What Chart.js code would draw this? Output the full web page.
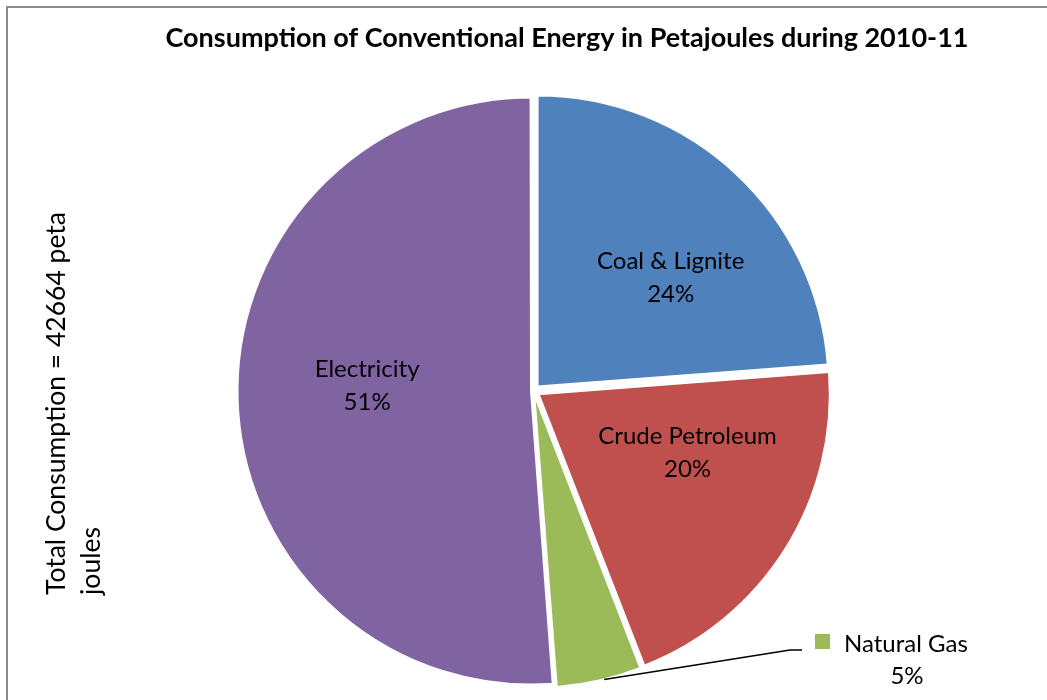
<!DOCTYPE html>
<html>
<head>
<meta charset="utf-8">
<script src="https://cdn.jsdelivr.net/npm/chart.js@4/dist/chart.umd.min.js"></script>
<style>
  html, body { margin: 0; padding: 0; background: #fff; }
  #pie { display: block; }
</style>
</head>
<body>
<canvas id="pie" width="1047" height="700"></canvas>
<script>
// values (petajoules, 2010-11)
const categories = ['Coal & Lignite', 'Crude Petroleum', 'Natural Gas', 'Electricity'];
const consumption = [10150, 8660, 2010, 21844];
const sliceColors = ['#4F81BD', '#C0504D', '#9BBB59', '#8064A2'];
const sliceOffsets = [24, 24, 14, 10];
const chartTitle = 'Consumption of Conventional Energy in Petajoules during 2010-11';
const sideNote = ['Total Consumption = 42664 peta', 'joules'];

// where each inside label sits: angle shift (deg) from slice middle, fraction of radius
const labelPlacement = [
  { shift: 8, frac: 0.59 },
  { shift: -10.5, frac: 0.55 },
  null,
  { shift: 4, frac: 0.555 },
];

const FONT = 'Lato, "Open Sans", sans-serif';
const total = consumption.reduce((a, b) => a + b, 0);
const pct = v => Math.round(v / total * 100) + '%';

function sliceCenter(arc, offset) {
  const circ = arc.endAngle - arc.startAngle;
  const fix = 1 - Math.sin(Math.min(Math.PI, circ));
  const shift = offset / 4 * (1 + fix);
  const mid = (arc.startAngle + arc.endAngle) / 2;
  return { x: arc.x + Math.cos(mid) * shift, y: arc.y + Math.sin(mid) * shift, mid };
}

const decor = {
  id: 'decor',
  beforeDraw(chart) {
    const ctx = chart.ctx;
    ctx.save();
    ctx.fillStyle = '#fff';
    ctx.fillRect(0, 0, chart.width, chart.height);

    // frame (right and bottom edges fall outside the picture)
    ctx.strokeStyle = '#8c8c8c';
    ctx.lineWidth = 2;
    ctx.beginPath();
    ctx.moveTo(7, chart.height + 5);
    ctx.lineTo(7, 7);
    ctx.lineTo(chart.width + 5, 7);
    ctx.stroke();

    ctx.fillStyle = '#000';
    ctx.font = 'bold 27px ' + FONT;
    ctx.textAlign = 'center';
    ctx.textBaseline = 'alphabetic';
    ctx.fillText(chartTitle, 567, 47);

    ctx.font = '26.5px ' + FONT;
    ctx.textAlign = 'left';
    ctx.translate(0, 595);
    ctx.rotate(-Math.PI / 2);
    ctx.fillText(sideNote[0], 0, 65);
    ctx.fillText(sideNote[1], 0, 100);
    ctx.restore();
  },
  afterDatasetsDraw(chart) {
    const ctx = chart.ctx;
    const arcs = chart.getDatasetMeta(0).data;
    ctx.save();
    ctx.fillStyle = '#000';
    ctx.font = '24px ' + FONT;
    ctx.textAlign = 'center';
    ctx.textBaseline = 'alphabetic';

    arcs.forEach((arc, i) => {
      const place = labelPlacement[i];
      if (!place) return;
      const c = sliceCenter(arc, sliceOffsets[i]);
      const a = c.mid + place.shift * Math.PI / 180;
      const r = arc.outerRadius * place.frac;
      const x = c.x + Math.cos(a) * r;
      const y = c.y + Math.sin(a) * r;
      ctx.fillText(categories[i], x, y - 9.5);
      ctx.fillText(pct(consumption[i]), x, y + 24);
    });

    // Natural Gas: outside label with leader line
    const gi = 2;
    const gas = arcs[gi];
    const gc = sliceCenter(gas, sliceOffsets[gi]);
    const ga = gc.mid - 1 * Math.PI / 180;
    const sx = gc.x + Math.cos(ga) * gas.outerRadius;
    const sy = gc.y + Math.sin(ga) * gas.outerRadius;
    ctx.strokeStyle = '#000';
    ctx.lineWidth = 1.5;
    ctx.beginPath();
    ctx.moveTo(sx, sy);
    ctx.lineTo(790, 650);
    ctx.lineTo(802, 650);
    ctx.stroke();

    ctx.fillStyle = sliceColors[gi];
    ctx.fillRect(815, 634, 15, 15);
    ctx.fillStyle = '#000';
    ctx.textAlign = 'left';
    ctx.fillText(categories[gi], 844, 652);
    ctx.textAlign = 'center';
    ctx.fillText(pct(consumption[gi]), 907, 684);
    ctx.restore();
  },
};

new Chart(document.getElementById('pie'), {
  type: 'pie',
  data: {
    labels: categories,
    datasets: [{
      data: consumption,
      backgroundColor: sliceColors,
      borderColor: '#ffffff',
      borderWidth: 2,
      offset: sliceOffsets,
      radius: 291,
    }],
  },
  options: {
    responsive: false,
    animation: false,
    layout: { padding: { top: 90, bottom: 8, left: 230, right: 210 } },
    plugins: {
      legend: { display: false },
      tooltip: { enabled: false },
      title: { display: false },
    },
  },
  plugins: [decor],
});
</script>
</body>
</html>
